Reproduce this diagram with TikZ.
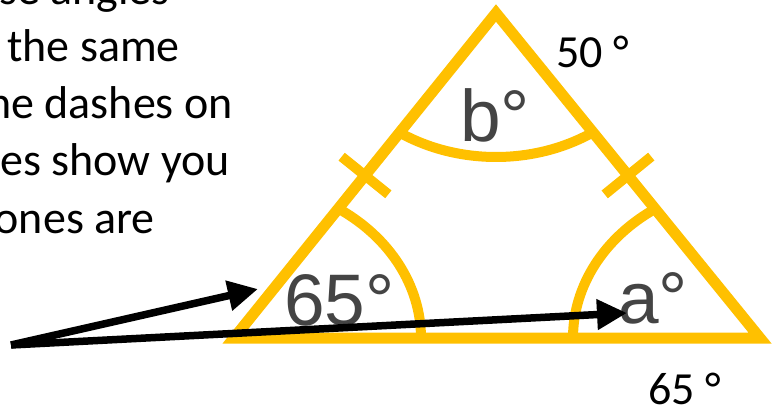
\documentclass[tikz,border=0pt]{standalone}
\usepackage{fontspec}
\setmainfont{Carlito}
\newfontfamily\anglefont{Liberation Sans}
\usetikzlibrary{arrows.meta,calc}
\definecolor{gold}{HTML}{FFC000}
\definecolor{lblgray}{HTML}{444444}

\begin{document}
\begin{tikzpicture}[x=1pt,y=1pt,
  edge/.style={draw=gold,line width=11pt,line join=miter},
  tickline/.style={draw=gold,line width=10pt},
  arcline/.style={draw=gold,line width=10pt},
  anglelbl/.style={inner sep=0pt,text=lblgray,font=\anglefont\fontsize{73}{80}\selectfont},
  note/.style={inner sep=0pt,font=\fontsize{46}{55}\selectfont},
  pointer/.style={line width=7.5pt,-{Triangle[length=30pt,width=29pt]}}]
  \useasboundingbox (0,0) rectangle (777,408);
  \clip (0,0) rectangle (777,408);
  \coordinate (A) at (234,70);
  \coordinate (B) at (760,70);
  \coordinate (C) at (496,395);
  \coordinate (mAC) at ($(A)!0.5!(C)$);
  \coordinate (mBC) at ($(B)!0.5!(C)$);
  \draw[edge] (A) -- (B) -- (C) -- cycle;
  \draw[tickline] ($(mAC)!30pt!90:(C)$) -- ($(mAC)!30pt!-90:(C)$);
  \draw[tickline] ($(mBC)!30pt!90:(C)$) -- ($(mBC)!30pt!-90:(C)$);
  \draw[arcline] ([shift={(236.1:173pt and 144pt)}]C)
    arc[start angle=236.1,end angle=303.9,x radius=173pt,y radius=144pt];
  \draw[arcline] ([shift={(0:187pt and 156pt)}]A)
    arc[start angle=0,end angle=56.1,x radius=187pt,y radius=156pt];
  \draw[arcline] ([shift={(180:187pt and 156pt)}]B)
    arc[start angle=180,end angle=123.9,x radius=187pt,y radius=156pt];
  \node[anglelbl,anchor=base west] (angA) at (284,83) {65°};
  \node[anglelbl,anchor=base west] (angC) at (460,266) {b°};
  \node[anglelbl,anchor=base west] (angB) at (618,85) {a°};
  \node[note,anchor=base west] (topval) at (556,340) {50 °};
  \node[note,anchor=base west] (baseval) at (648,4) {65 °};
  \node[note,anchor=base east] (line1) at (170,403) {se angles};
  \node[note,anchor=base east] (line2) at (180,346) {the same};
  \node[note,anchor=base east] (line3) at (233,290) {ne dashes on};
  \node[note,anchor=base east] (line4) at (230,233) {es show you};
  \node[note,anchor=base east] (line5) at (155,175) {ones are};
  \coordinate (src) at (11,63);
  \coordinate (tipA) at (258,119);
  \coordinate (tipB) at (627,95);
  \draw[pointer] (src) -- (tipA);
  \draw[pointer] (src) -- (tipB);
\end{tikzpicture}
\end{document}
